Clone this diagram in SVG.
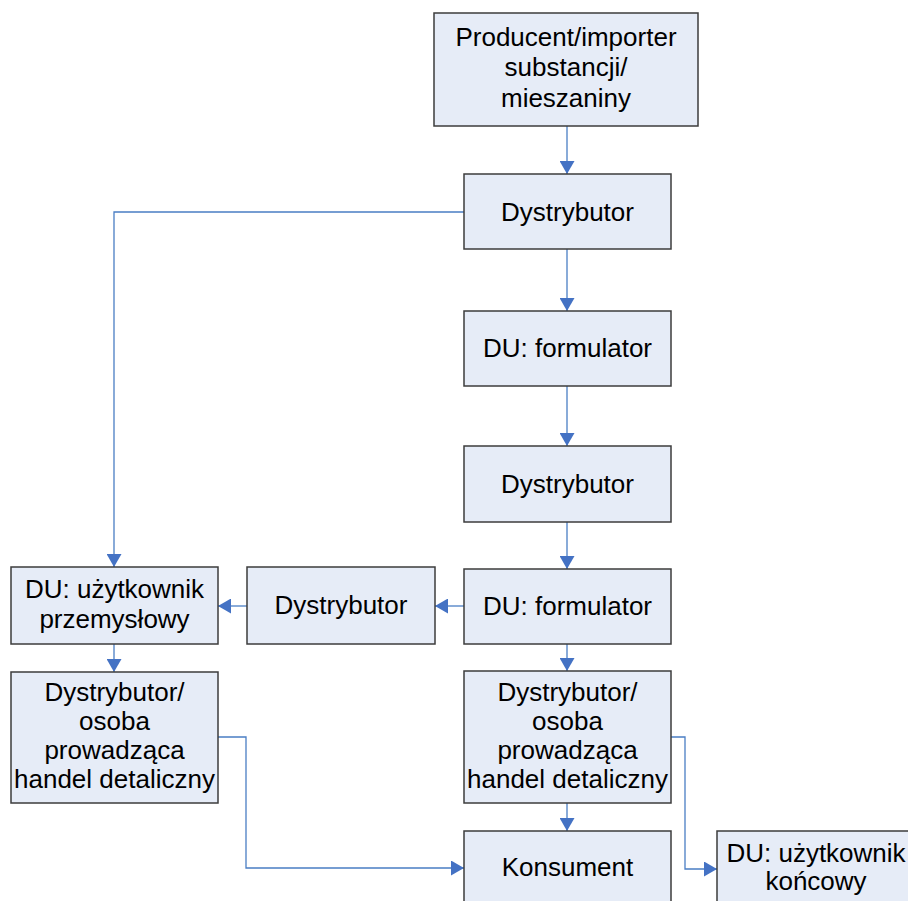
<svg xmlns="http://www.w3.org/2000/svg" width="908" height="901" viewBox="0 0 908 901">
  <style>
    .box { fill: #E6ECF7; stroke: #3C3C3C; stroke-width: 1.5; }
    .lbl { font-family: "Liberation Sans", Arial, sans-serif; font-size: 26px; fill: #000; text-anchor: middle; }
    .conn { fill: none; stroke: #4A7EC4; stroke-width: 1.3; }
  </style>
  <defs>
    <marker id="arrow" markerUnits="userSpaceOnUse" markerWidth="14" markerHeight="15" refX="13" refY="7.5" orient="auto">
      <path d="M0,0 L13,7.5 L0,15 Z" fill="#4472C4"/>
    </marker>
  </defs>
  <rect width="908" height="901" fill="#FFFFFF"/>

  <g id="connectors">
    <path class="conn" d="M567,126 V174" marker-end="url(#arrow)"/>
    <path class="conn" d="M464,212 H114 V567" marker-end="url(#arrow)"/>
    <path class="conn" d="M567,249 V311" marker-end="url(#arrow)"/>
    <path class="conn" d="M567,386 V446" marker-end="url(#arrow)"/>
    <path class="conn" d="M567,522 V569" marker-end="url(#arrow)"/>
    <path class="conn" d="M464,606 H435" marker-end="url(#arrow)"/>
    <path class="conn" d="M247,606 H218" marker-end="url(#arrow)"/>
    <path class="conn" d="M114,644 V672" marker-end="url(#arrow)"/>
    <path class="conn" d="M567,644 V671" marker-end="url(#arrow)"/>
    <path class="conn" d="M218,737 H246 V868 H464" marker-end="url(#arrow)"/>
    <path class="conn" d="M567,803 V831" marker-end="url(#arrow)"/>
    <path class="conn" d="M671,737 H685 V869 H717" marker-end="url(#arrow)"/>
  </g>

  <g id="producent">
    <rect class="box" x="434" y="13" width="264" height="113"/>
    <text class="lbl" x="566" y="46">Producent/importer</text>
    <text class="lbl" x="566" y="76">substancji/</text>
    <text class="lbl" x="566" y="107">mieszaniny</text>
  </g>

  <g id="dystrybutor1">
    <rect class="box" x="464" y="174" width="207" height="75"/>
    <text class="lbl" x="567.5" y="221">Dystrybutor</text>
  </g>

  <g id="formulator1">
    <rect class="box" x="464" y="311" width="207" height="75"/>
    <text class="lbl" x="567.5" y="357">DU: formulator</text>
  </g>

  <g id="dystrybutor2">
    <rect class="box" x="464" y="446" width="207" height="76"/>
    <text class="lbl" x="567.5" y="493">Dystrybutor</text>
  </g>

  <g id="formulator2">
    <rect class="box" x="464" y="569" width="207" height="75"/>
    <text class="lbl" x="567.5" y="615">DU: formulator</text>
  </g>

  <g id="dystrybutor3">
    <rect class="box" x="247" y="567" width="188" height="77"/>
    <text class="lbl" x="341" y="614">Dystrybutor</text>
  </g>

  <g id="uzytkownik-przemyslowy">
    <rect class="box" x="11" y="567" width="207" height="77"/>
    <text class="lbl" x="114.5" y="598">DU: użytkownik</text>
    <text class="lbl" x="114.5" y="628">przemysłowy</text>
  </g>

  <g id="detalista-lewy">
    <rect class="box" x="11" y="672" width="207" height="131"/>
    <text class="lbl" x="114.5" y="701">Dystrybutor/</text>
    <text class="lbl" x="114.5" y="730">osoba</text>
    <text class="lbl" x="114.5" y="759">prowadząca</text>
    <text class="lbl" x="114.5" y="788">handel detaliczny</text>
  </g>

  <g id="detalista-prawy">
    <rect class="box" x="464" y="671" width="207" height="132"/>
    <text class="lbl" x="567.5" y="701">Dystrybutor/</text>
    <text class="lbl" x="567.5" y="730">osoba</text>
    <text class="lbl" x="567.5" y="759">prowadząca</text>
    <text class="lbl" x="567.5" y="788">handel detaliczny</text>
  </g>

  <g id="konsument">
    <rect class="box" x="464" y="831" width="207" height="100"/>
    <text class="lbl" x="567.5" y="876">Konsument</text>
  </g>

  <g id="uzytkownik-koncowy">
    <rect class="box" x="717" y="831" width="198" height="100"/>
    <text class="lbl" x="816" y="862">DU: użytkownik</text>
    <text class="lbl" x="816" y="890">końcowy</text>
  </g>
</svg>
